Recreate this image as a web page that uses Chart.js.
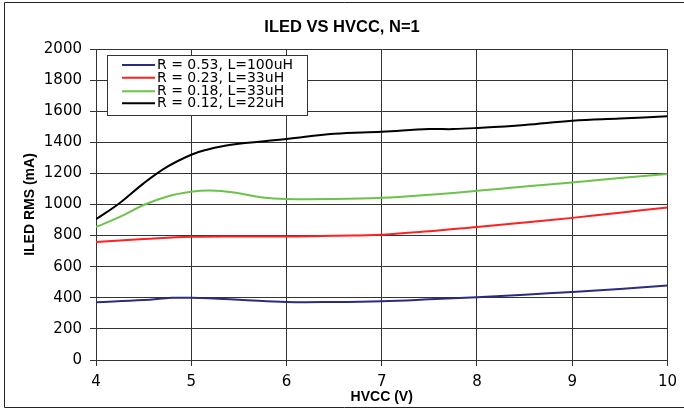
<!DOCTYPE html>
<html>
<head>
<meta charset="utf-8">
<script src="https://cdn.jsdelivr.net/npm/chart.js@4/dist/chart.umd.min.js"></script>
<style>
  html, body { margin: 0; padding: 0; background: #fff; }
  #wrap { width: 684px; height: 409px; position: relative; }
</style>
</head>
<body>
<div id="wrap"><canvas id="c" width="684" height="409"></canvas></div>
<script>
const chartTitle = "ILED VS HVCC, N=1";
const xTitle = "HVCC (V)";
const yTitle = "ILED RMS (mA)";
const seriesLabels = ["R = 0.53, L=100uH", "R = 0.23, L=33uH", "R = 0.18, L=33uH", "R = 0.12, L=22uH"];
const seriesColors = ["#2b2b80", "#ff2020", "#6cc24a", "#000000"];

const xBlue  = [4, 4.5, 4.8, 5, 5.5, 6, 6.5, 7, 7.5, 8, 8.5, 9, 9.5, 10];
const yBlue  = [372, 386, 400, 400, 388, 373, 373, 378, 390, 404, 420, 438, 457, 479];
const xRed   = [4, 4.5, 5, 6, 6.5, 7, 7.5, 8, 8.5, 9, 9.5, 10];
const yRed   = [759, 778, 793, 794, 799, 806, 828, 856, 884, 914, 947, 981];
const xGreen = [4, 4.25, 4.5, 4.75, 5, 5.2, 5.45, 5.75, 6, 6.5, 7, 7.5, 8, 8.5, 9, 9.5, 10];
const yGreen = [856, 920, 997, 1052, 1082, 1090, 1077, 1045, 1035, 1035, 1043, 1063, 1088, 1115, 1142, 1170, 1196];
const xBlack = [4, 4.25, 4.5, 4.75, 5, 5.15, 5.4, 6, 6.5, 7, 7.5, 7.75, 8, 8.5, 9, 9.5, 10];
const yBlack = [905, 1010, 1136, 1243, 1320, 1350, 1383, 1421, 1455, 1468, 1485, 1485, 1492, 1512, 1539, 1553, 1567];

const xs = [xBlue, xRed, xGreen, xBlack];
const ys = [yBlue, yRed, yGreen, yBlack];

const datasets = seriesLabels.map((lab, i) => ({
  label: lab,
  data: xs[i].map((x, j) => ({ x: x, y: ys[i][j] })),
  borderColor: seriesColors[i],
  backgroundColor: seriesColors[i],
  borderWidth: 2,
  pointRadius: 0,
  tension: 0.4,
  fill: false
}));

const gridColor = "#333333";

const legendBox = {
  id: 'legendBox',
  afterDatasetsDraw(chart) {
    const ctx = chart.ctx;
    const ca = chart.chartArea;
    const left = ca.left + 11, top = ca.top + 6, w = 200, h = 60;
    const rowOffsets = [10, 22.7, 36.3, 48.3];
    ctx.save();
    ctx.fillStyle = '#ffffff';
    ctx.fillRect(left, top, w, h);
    ctx.strokeStyle = '#333333';
    ctx.lineWidth = 1;
    ctx.strokeRect(Math.round(left) + 0.5, Math.round(top) + 0.5, w, h);
    ctx.font = '14px "DejaVu Sans"';
    ctx.textBaseline = 'middle';
    ctx.fillStyle = '#000';
    chart.data.datasets.forEach((ds, i) => {
      const y = top + rowOffsets[i];
      ctx.strokeStyle = ds.borderColor;
      ctx.lineWidth = 2;
      ctx.beginPath();
      ctx.moveTo(left + 15, y);
      ctx.lineTo(left + 48, y);
      ctx.stroke();
      ctx.fillText(ds.label, left + 50, y + 0.5);
    });
    ctx.restore();
  }
};

const frameAndTitle = {
  id: 'frameAndTitle',
  afterDraw(chart) {
    const ctx = chart.ctx;
    ctx.save();
    ctx.strokeStyle = '#222';
    ctx.lineWidth = 1;
    ctx.beginPath();
    ctx.moveTo(684, 2.5); ctx.lineTo(4.5, 2.5); ctx.lineTo(4.5, 407.5); ctx.lineTo(684, 407.5);
    ctx.stroke();
    ctx.fillStyle = '#000';
    ctx.font = 'bold 16.5px "Liberation Sans", Arial';
    ctx.textAlign = 'center';
    ctx.textBaseline = 'middle';
    ctx.fillText(chartTitle, 342, 27);
    ctx.restore();
  }
};

new Chart(document.getElementById('c'), {
  type: 'line',
  data: { datasets: datasets },
  options: {
    responsive: false,
    animation: false,
    layout: { padding: { left: 0, right: 15, top: 49, bottom: 0 } },
    plugins: {
      legend: { display: false },
      tooltip: { enabled: false },
      title: { display: false }
    },
    scales: {
      x: {
        type: 'linear',
        min: 4, max: 10,
        ticks: { stepSize: 1, color: '#000', padding: 7, font: { family: '"DejaVu Sans"', size: 15 },
                 callback: (v) => String(v) },
        grid: { color: gridColor, lineWidth: 1, tickLength: 6, drawTicks: true },
        border: { color: gridColor, width: 1 },
        title: { display: true, text: xTitle, color: '#000', padding: { top: 0, bottom: 3 },
                 font: { family: '"Liberation Sans", Arial', size: 14, weight: 'bold' } },
        afterFit(s) { s.height = 49; }
      },
      y: {
        min: 0, max: 2000,
        ticks: { stepSize: 200, color: '#000', padding: 8, font: { family: '"DejaVu Sans"', size: 15 },
                 callback: (v) => String(v) },
        grid: { color: gridColor, lineWidth: 1, tickLength: 6, drawTicks: true },
        border: { color: gridColor, width: 1 },
        title: { display: true, text: yTitle, color: '#000', padding: { top: 22, bottom: 0 },
                 font: { family: '"Liberation Sans", Arial', size: 14, weight: 'bold' } },
        afterFit(s) { s.width = 96; }
      }
    }
  },
  plugins: [legendBox, frameAndTitle]
});
</script>
</body>
</html>
